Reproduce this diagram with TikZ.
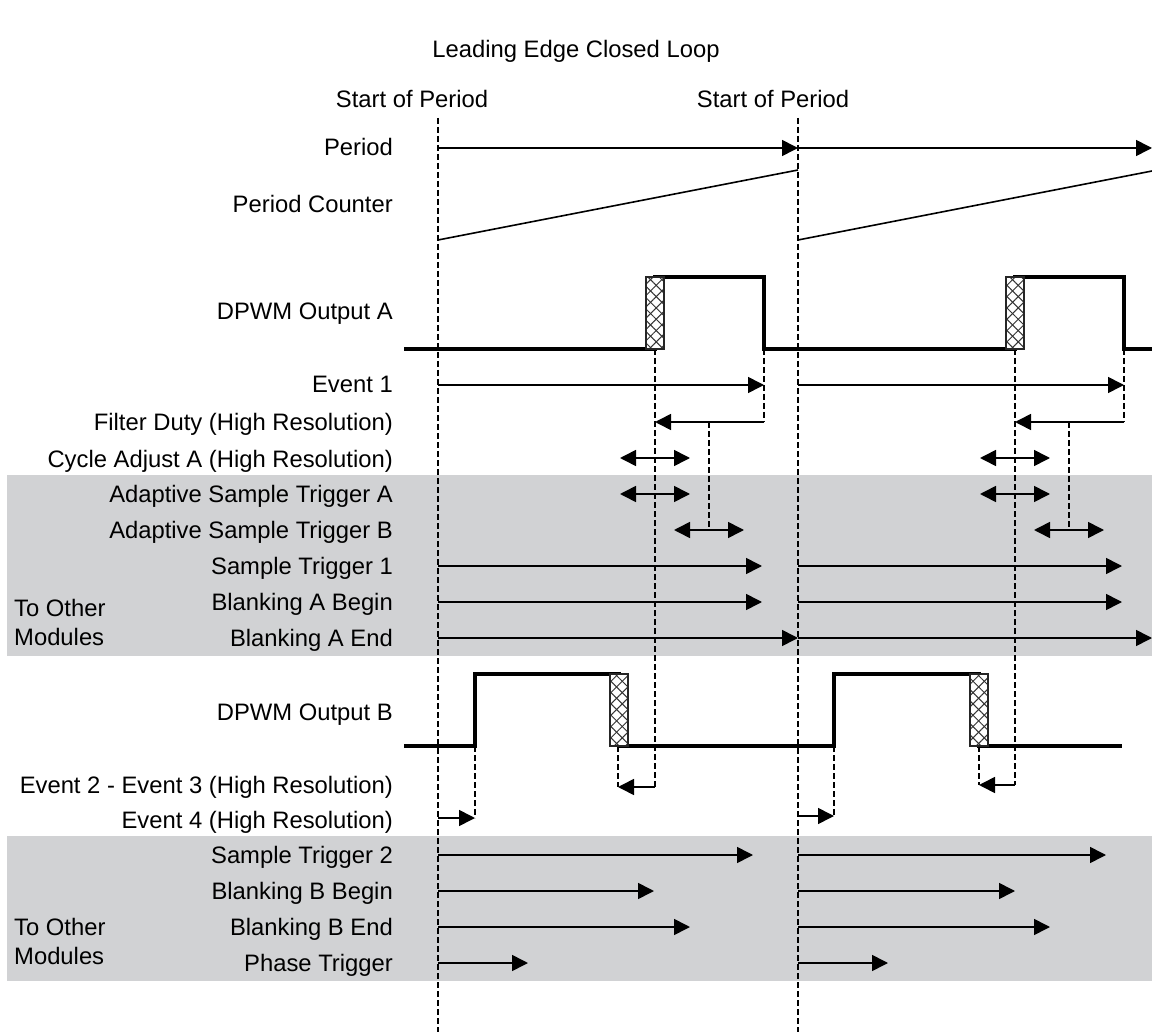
\documentclass[tikz,border=0pt]{standalone}
\usepackage{fontspec}
\setmainfont{Liberation Sans}
\usetikzlibrary{arrows.meta,patterns.meta}
\definecolor{bandgray}{RGB}{209,210,212}
\tikzset{
  lbl/.style={font=\fontsize{23.8}{28}\selectfont, inner sep=0pt, anchor=base east},
  lbll/.style={font=\fontsize{23.8}{28}\selectfont, inner sep=0pt, anchor=base west},
  ttl/.style={font=\fontsize{23.8}{28}\selectfont, inner sep=0pt, anchor=base},
  arr/.style={line width=1.6pt, -{Triangle[length=16pt,width=16pt]}},
  darr/.style={line width=1.6pt, {Triangle[length=16pt,width=16pt]}-{Triangle[length=16pt,width=16pt]}},
  thinl/.style={line width=1.6pt},
  dashln/.style={line width=2.3pt, dash pattern=on 6pt off 3pt},
  sig/.style={line width=4pt},
  hatchbox/.style={fill=white, draw=black!80, line width=1pt},
  band/.style={fill=bandgray, draw=none}
}
\newcommand{\hatchat}[2]{%
  \fill[hatchbox] (#1,#2) rectangle ++(18,72);
  \fill[pattern={Lines[angle=45,distance=8pt,line width=1pt]},pattern color=black!80] (#1,#2) rectangle ++(18,72);
  \fill[pattern={Lines[angle=-45,distance=8pt,line width=1pt]},pattern color=black!80] (#1,#2) rectangle ++(18,72);
  \draw[black!85, line width=1.2pt] (#1,#2) rectangle ++(18,72);}
\begin{document}
\begin{tikzpicture}[x=1pt,y=-1pt]
\useasboundingbox (0,0) rectangle (1152,1032);
% bands
\fill[band] (7,475) rectangle (1152,656);
\fill[band] (7,836) rectangle (1152,981);
% titles
\node[ttl] (title) at (576,58) {Leading Edge Closed Loop};
\node[ttl] (sop1) at (412,108) {Start of Period};
\node[ttl] (sop2) at (773,108) {Start of Period};
% labels
\node[lbl] (lPeriod) at (393,156) {Period};
\node[lbl] (lCounter) at (393,213) {Period Counter};
\node[lbl] (lOutA) at (393,320) {DPWM Output A};
\node[lbl] (lEv1) at (393,393) {Event 1};
\node[lbl] (lFilt) at (393,430) {Filter Duty (High Resolution)};
\node[lbl] (lCyc) at (393,467) {Cycle Adjust A\ (High Resolution)};
\node[lbl] (lAdA) at (393,502) {Adaptive Sample Trigger A};
\node[lbl] (lAdB) at (393,538) {Adaptive Sample Trigger B};
\node[lbl] (lST1) at (393,574) {Sample Trigger 1};
\node[lbl] (lBAB) at (393,610) {Blanking A Begin};
\node[lbl] (lBAE) at (393,646) {Blanking A End};
\node[lbll] (lTo1) at (14,616) {To Other};
\node[lbll] (lMod1) at (14,645) {Modules};
\node[lbl] (lOutB) at (393,720) {DPWM Output B};
\node[lbl] (lEv23) at (393,793) {Event 2 - Event 3 (High Resolution)};
\node[lbl] (lEv4) at (393,828) {Event 4 (High Resolution)};
\node[lbl] (lST2) at (393,863) {Sample Trigger 2};
\node[lbl] (lBBB) at (393,899) {Blanking B Begin};
\node[lbl] (lBBE) at (393,935) {Blanking B End};
\node[lbl] (lPh) at (393,971) {Phase Trigger};
\node[lbll] (lTo2) at (14,935) {To Other};
\node[lbll] (lMod2) at (14,964) {Modules};
% main period dashed lines
\coordinate (p1t) at (438,118); \coordinate (p1b) at (438,1032);
\coordinate (p2t) at (798,118); \coordinate (p2b) at (798,1032);
\draw[dashln] (p1t) -- (p1b);
\draw[dashln] (p2t) -- (p2b);
% secondary dashed lines
\draw[dashln] (655,349) -- (655,787);
\draw[dashln] (764,349) -- (764,422);
\draw[dashln] (709,422) -- (709,530);
\draw[dashln] (475,746) -- (475,818);
\draw[dashln] (618,746) -- (618,787);
\draw[dashln] (1015,349) -- (1015,785);
\draw[dashln] (1124,349) -- (1124,422);
\draw[dashln] (1069,422) -- (1069,530);
\draw[dashln] (834,746) -- (834,816);
\draw[dashln] (979,746) -- (979,785);
% period arrows
\draw[arr] (438,148) -- (798,148);
\draw[arr] (798,148) -- (1152,148);
% period counter
\draw[thinl] (438,240) -- (798,170);
\draw[thinl] (798,240) -- (1152,171);
% event 1
\draw[arr] (438,385) -- (764,385);
\draw[arr] (798,385) -- (1124,385);
% filter duty
\draw[arr] (764,422) -- (655,422);
\draw[arr] (1124,422) -- (1015,422);
% cycle adjust / adaptive
\draw[darr] (620,458) -- (690,458);
\draw[darr] (980,458) -- (1050,458);
\draw[darr] (620,494) -- (690,494);
\draw[darr] (980,494) -- (1050,494);
\draw[darr] (674,530) -- (744,530);
\draw[darr] (1034,530) -- (1104,530);
% sample trigger 1, blanking A
\draw[arr] (438,566) -- (762,566);
\draw[arr] (798,566) -- (1122,566);
\draw[arr] (438,602) -- (762,602);
\draw[arr] (798,602) -- (1122,602);
\draw[arr] (438,638) -- (798,638);
\draw[arr] (798,638) -- (1152,638);
% event 2-3, event 4
\draw[arr] (655,787) -- (618,787);
\draw[arr] (1015,785) -- (979,785);
\draw[arr] (438,818) -- (475,818);
\draw[arr] (798,816) -- (834,816);
% band 2 arrows
\draw[arr] (438,855) -- (753,855);
\draw[arr] (798,855) -- (1106,855);
\draw[arr] (438,891) -- (654,891);
\draw[arr] (798,891) -- (1015,891);
\draw[arr] (438,927) -- (690,927);
\draw[arr] (798,927) -- (1050,927);
\draw[arr] (438,963) -- (528,963);
\draw[arr] (798,963) -- (888,963);
% DPWM A
\draw[sig] (404,349) -- (655,349) -- (655,277) -- (764,277) -- (764,349) -- (1015,349) -- (1015,277) -- (1124,277) -- (1124,349) -- (1152,349);
\hatchat{646}{277}
\hatchat{1006}{277}
% DPWM B
\draw[sig] (404,746) -- (475,746) -- (475,674) -- (619,674) -- (619,746) -- (834,746) -- (834,674) -- (979,674) -- (979,746) -- (1122,746);
\hatchat{610}{674}
\hatchat{970}{674}
\end{tikzpicture}
\end{document}
